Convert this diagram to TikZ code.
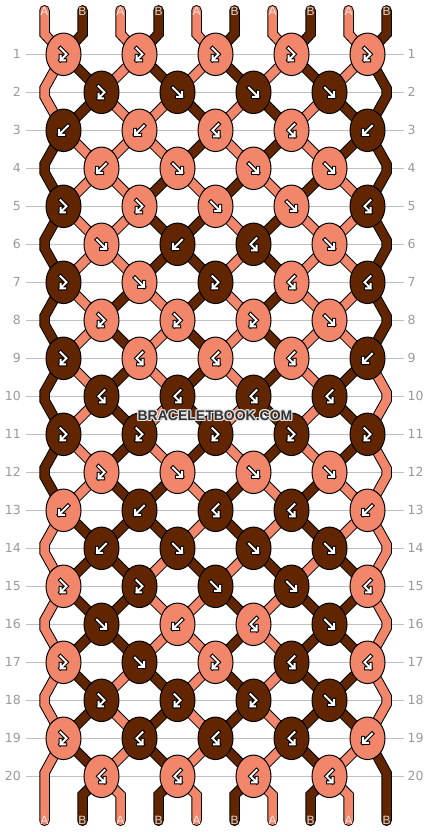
\documentclass[tikz,border=0pt]{standalone}
\usepackage{fontspec}
\setmainfont{Liberation Sans}
\newfontfamily\numfont{DejaVu Sans}
\usetikzlibrary{shapes.geometric}
\definecolor{salm}{HTML}{F2866A}
\definecolor{brn}{HTML}{612600}
\definecolor{rowgray}{HTML}{C0C0C0}
\definecolor{numgray}{HTML}{9A9A9A}
\definecolor{wmtext}{HTML}{333333}
\definecolor{wmhalo}{HTML}{E4E4E4}
\tikzset{
  knot/.style={ellipse, draw=black, line width=1, minimum width=35, minimum height=42.5, inner sep=0},
  rowline/.style={draw=rowgray, line width=1},
  numlbl/.style={text=numgray, inner sep=0, font=\numfont\fontsize{12.5}{13}\selectfont},
  strlbl/.style={text=white, text opacity=0.8, inner sep=0, font=\fontsize{12}{12}\selectfont},
  symout/.style={draw=black, line width=4, line cap=rect, line join=miter},
  symin/.style={draw=white, line width=2, line cap=rect, line join=miter},
  wm/.style={inner sep=0, font=\bfseries\fontsize{14}{14}\selectfont},
}
\newcommand\strandseg[2]{\draw[line width=10.5, draw=black, line join=miter] #2; \draw[line width=8.5, draw=#1, line join=miter] #2;}
\newcommand\strandend[2]{\draw[line width=10.5, draw=black, line cap=round, line join=miter] #2; \draw[line width=8.5, draw=#1, line cap=round, line join=miter] #2;}
\newcommand\symdraw[2]{\draw[symout,shift={(#1.center)}] #2; \draw[symin,shift={(#1.center)}] #2;}
\newcommand\symF[1]{\symdraw{#1}{(-4.5,-4.5) -- (4.5,4.5) (4.5,-0.5) -- (4.5,4.5) -- (-0.5,4.5)}}
\newcommand\symB[1]{\symdraw{#1}{(4.5,-4.5) -- (-4.5,4.5) (-4.5,-0.5) -- (-4.5,4.5) -- (0.5,4.5)}}
\newcommand\symFB[1]{\symdraw{#1}{(-3,-6) -- (3,0) -- (-3,6) (-3,1.5) -- (-3,6) -- (1.5,6)}}
\newcommand\symBF[1]{\symdraw{#1}{(3,-6) -- (-3,0) -- (3,6) (3,1.5) -- (3,6) -- (-1.5,6)}}
\begin{document}
\begin{tikzpicture}[x=1pt,y=-1pt]
\useasboundingbox (0,0) rectangle (430,832);
\fill[white] (0,0) rectangle (430,832);
% row lines and numbers
\foreach \r in {1,...,20}{
  \pgfmathsetmacro\yy{54.3+38*(\r-1)}
  \draw[rowline] (26,\yy) -- (404,\yy);
  \node[numlbl, anchor=east] (nl\r) at (21,\yy) {\r};
  \node[numlbl, anchor=west] (nr\r) at (407.5,\yy) {\r};
}
% knot coordinates
\foreach \r in {1,...,20}{
  \pgfmathsetmacro\yy{54.3+38*(\r-1)}
  \ifodd\r\relax
    \foreach \k in {0,...,4}{\coordinate (c\r-\k) at ({63.5+76*\k},\yy);}
  \else
    \foreach \k in {0,...,3}{\coordinate (c\r-\k) at ({101.5+76*\k},\yy);}
    \coordinate (eLa\r) at (44.5,{\yy-4});
    \coordinate (eLb\r) at (44.5,{\yy+4});
    \coordinate (eRa\r) at (386.5,{\yy-4});
    \coordinate (eRb\r) at (386.5,{\yy+4});
  \fi
}
% top strands
\foreach \p/\c/\lab in {0/0/A,1/1/B,2/0/A,3/1/B,4/0/A,5/1/B,6/0/A,7/1/B,8/0/A,9/1/B}{
  \pgfmathsetmacro\xx{44.5+38*\p}
  \pgfmathtruncatemacro\kk{floor(\p/2)}
  \ifnum\c=0 \def\cc{salm}\else\def\cc{brn}\fi
  \coordinate (ts\p) at (\xx,10.3);
  \coordinate (tb\p) at (\xx,34);
  \strandend{\cc}{(ts\p) -- (tb\p) -- (c1-\kk)}
  \node[strlbl] (tl\p) at (\xx,11.7) {\lab};
}
% strands between rows
\foreach \r/\st in {
  1/{0,1,0,1,0,1,0,1,0,1},
  2/{0,1,0,0,1,0,1,0,1,1},
  3/{1,0,0,0,1,0,1,0,1,1},
  4/{1,0,0,1,0,1,0,1,0,1},
  5/{1,0,0,1,1,0,1,0,0,1},
  6/{1,0,0,1,1,0,1,0,0,1},
  7/{1,0,1,0,1,0,1,0,0,1},
  8/{1,0,1,0,1,0,1,0,0,1},
  9/{1,0,1,0,1,0,1,0,1,0},
  10/{1,0,1,0,1,0,1,0,1,0},
  11/{1,0,1,0,1,0,1,0,1,0},
  12/{1,0,1,1,0,1,0,1,0,0},
  13/{0,1,1,1,0,1,0,1,0,0},
  14/{0,1,1,0,1,0,1,0,1,0},
  15/{0,1,1,0,0,1,0,1,1,0},
  16/{0,1,1,0,0,1,0,1,1,0},
  17/{0,1,0,1,0,1,0,1,1,0},
  18/{0,1,0,1,0,1,0,1,1,0},
  19/{0,1,0,1,0,1,0,1,0,1}}{
  \pgfmathtruncatemacro\rn{\r+1}
  \foreach \c [count=\p from 0] in \st {
    \ifnum\p>0 \ifnum\p<9
      \pgfmathtruncatemacro\ko{floor(\p/2)}
      \pgfmathtruncatemacro\ke{floor((\p-1)/2)}
      \ifnum\c=0 \def\cc{salm}\else\def\cc{brn}\fi
      \ifodd\r\relax
        \strandseg{\cc}{(c\r-\ko) -- (c\rn-\ke)}
      \else
        \strandseg{\cc}{(c\r-\ke) -- (c\rn-\ko)}
      \fi
    \fi\fi
  }
}
% edge strands
\foreach \r/\cl/\cr in {1/0/1,3/1/1,5/1/1,7/1/1,9/1/0,11/1/0,13/0/0,15/0/0,17/0/0}{
  \pgfmathtruncatemacro\rn{\r+1}
  \pgfmathtruncatemacro\rr{\r+2}
  \ifnum\cl=0 \def\ccl{salm}\else\def\ccl{brn}\fi
  \ifnum\cr=0 \def\ccr{salm}\else\def\ccr{brn}\fi
  \strandseg{\ccl}{(c\r-0) -- (eLa\rn) -- (eLb\rn) -- (c\rr-0)}
  \strandseg{\ccr}{(c\r-4) -- (eRa\rn) -- (eRb\rn) -- (c\rr-4)}
}
% bottom strands
\coordinate (bLa) at (44.5,773);
\coordinate (bRa) at (386.5,773);
\coordinate (bs0) at (44.5,820.8);
\coordinate (bs9) at (386.5,820.8);
\strandend{salm}{(c19-0) -- (bLa) -- (bs0)}
\strandend{brn}{(c19-4) -- (bRa) -- (bs9)}
\foreach \p/\c in {1/1,2/0,3/1,4/0,5/1,6/0,7/1,8/0}{
  \pgfmathsetmacro\xx{44.5+38*\p}
  \pgfmathtruncatemacro\ke{floor((\p-1)/2)}
  \ifnum\c=0 \def\cc{salm}\else\def\cc{brn}\fi
  \coordinate (bb\p) at (\xx,795);
  \coordinate (bs\p) at (\xx,820.8);
  \strandend{\cc}{(c20-\ke) -- (bb\p) -- (bs\p)}
}
\foreach \p/\lab in {0/A,1/B,2/A,3/B,4/A,5/B,6/A,7/B,8/A,9/B}{
  \node[strlbl] (bl\p) at (bs\p) {\lab};
}
% knots
\foreach \r/\lst in {
  1/{FB/0,FB/0,FB/0,FB/0,FB/0},
  2/{FB/1,F/1,F/1,F/1},
  3/{B/1,B/0,BF/0,BF/0,B/1},
  4/{B/0,F/0,F/0,F/0},
  5/{FB/1,FB/0,F/0,F/0,BF/1},
  6/{F/0,B/1,BF/1,F/0},
  7/{FB/1,F/0,FB/1,BF/0,BF/1},
  8/{FB/0,FB/0,FB/0,F/0},
  9/{FB/1,BF/0,BF/0,BF/0,B/1},
  10/{BF/1,BF/1,BF/1,BF/1},
  11/{FB/1,FB/1,FB/1,FB/1,FB/1},
  12/{FB/0,F/0,F/0,F/0},
  13/{B/0,B/1,BF/1,BF/1,B/0},
  14/{B/1,F/1,F/1,F/1},
  15/{FB/0,FB/1,F/1,F/1,BF/0},
  16/{F/1,B/0,BF/0,F/1},
  17/{FB/0,F/1,FB/0,BF/1,BF/0},
  18/{FB/1,FB/1,FB/1,F/1},
  19/{FB/0,BF/1,BF/1,BF/1,B/0},
  20/{BF/0,BF/0,BF/0,BF/0}}{
  \foreach \t/\c [count=\k from 0] in \lst {
    \ifnum\c=0 \def\kc{salm}\else\def\kc{brn}\fi
    \node[knot, fill=\kc] (k\r-\k) at (c\r-\k) {};
    \csname sym\t\endcsname{k\r-\k}
  }
}
% watermark
\foreach \dx/\dy [count=\i] in {-1/-1,0/-1,1/-1,-1/0,1/0,-1/1,0/1,1/1}{
  \node[wm, text=wmhalo] (wmh\i) at ({215+\dx},{416+\dy}) {BRACELETBOOK.COM};
}
\node[wm, text=wmtext] (wm) at (215,416) {BRACELETBOOK.COM};
\end{tikzpicture}
\end{document}
